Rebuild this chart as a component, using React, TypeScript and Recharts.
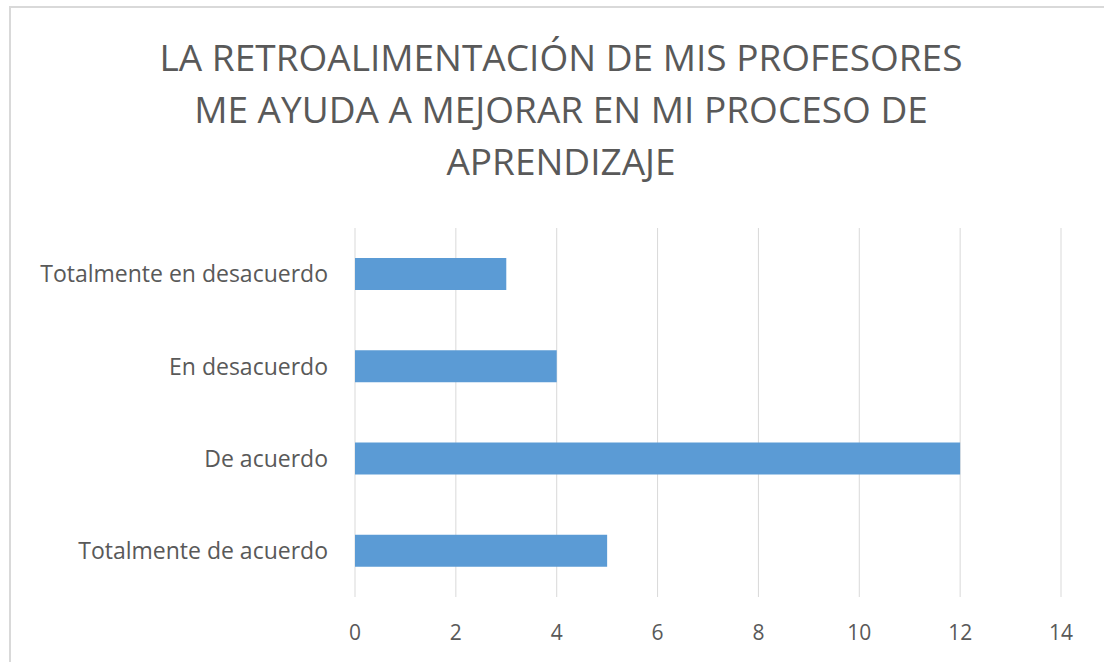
import React from 'react';
import { BarChart, Bar, XAxis, YAxis, CartesianGrid } from 'recharts';

const categories = [
  'Totalmente en desacuerdo',
  'En desacuerdo',
  'De acuerdo',
  'Totalmente de acuerdo',
];
const counts = [3, 4, 12, 5];
const xTicks = [0, 2, 4, 6, 8, 10, 12, 14];
const titleLines = [
  'LA RETROALIMENTACIÓN DE MIS PROFESORES',
  'ME AYUDA A MEJORAR EN MI PROCESO DE',
  'APRENDIZAJE',
];

const TEXT = '#595959';
const FONT = '"Open Sans", "Noto Sans", sans-serif';

const data = categories.map((name, i) => ({ name, value: counts[i] }));

export default function App() {
  return (
    <div
      style={{
        position: 'fixed',
        left: 0,
        top: 0,
        width: 1104,
        height: 662,
        overflow: 'hidden',
        background: '#ffffff',
        fontFamily: FONT,
      }}
    >
      {/* chart frame, runs off the right and bottom edges like the screenshot */}
      <div
        style={{
          position: 'absolute',
          left: 9,
          top: 6,
          width: 1120,
          height: 680,
          border: '2px solid #d9d9d9',
          boxSizing: 'border-box',
        }}
      />

      <div
        style={{
          position: 'absolute',
          left: 100,
          width: 922,
          top: 31,
          textAlign: 'center',
          color: TEXT,
          fontSize: 37,
          lineHeight: '52px',
          whiteSpace: 'nowrap',
        }}
      >
        {titleLines.map((line) => (
          <div key={line}>{line}</div>
        ))}
      </div>

      <div style={{ position: 'absolute', left: 0, top: 0 }}>
        <BarChart
          width={1104}
          height={662}
          data={data}
          layout="vertical"
          margin={{ top: 228, right: 43, bottom: 25, left: 0 }}
          barSize={32}
        >
          <CartesianGrid horizontal={false} stroke="#d9d9d9" />
          <XAxis
            type="number"
            domain={[0, 14]}
            ticks={xTicks}
            axisLine={false}
            tickLine={false}
            tickSize={0}
            tickMargin={28}
            height={40}
            tick={{ fill: TEXT, fontSize: 21, fontFamily: FONT }}
          />
          <YAxis
            type="category"
            dataKey="name"
            width={355}
            axisLine={false}
            tickLine={false}
            tickSize={0}
            tickMargin={27}
            tick={{ fill: TEXT, fontSize: 23, fontFamily: FONT }}
          />
          <Bar dataKey="value" fill="#5b9bd5" isAnimationActive={false} />
        </BarChart>
      </div>
    </div>
  );
}
